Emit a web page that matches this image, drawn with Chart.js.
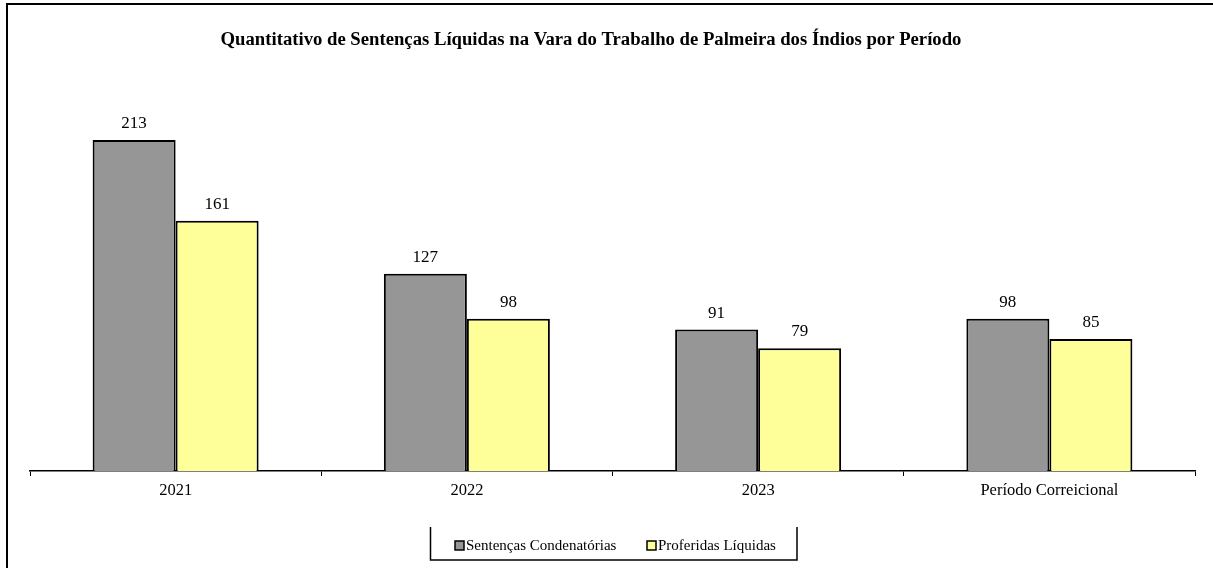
<!DOCTYPE html>
<html lang="pt-BR">
<head>
    <meta charset="UTF-8">
    <script src="https://cdn.jsdelivr.net/npm/chart.js@4/dist/chart.umd.min.js"></script>
    <title>Sentenças Líquidas por Período</title>
    <style>
        html, body { margin: 0; padding: 0; background: #fff; }
        #chart { width: 1213px; height: 568px; }
    </style>
</head>
<body>
    <div id="chart">
        <canvas id="myChart"></canvas>
    </div>
    <script>
        // dados
        const periodos = ['2021', '2022', '2023', 'Período Correicional'];
        const condenatorias = [213, 127, 91, 98];
        const liquidas = [161, 98, 79, 85];
        const nomesSeries = ['Sentenças Condenatórias', 'Proferidas Líquidas'];
        const titulo = 'Quantitativo de Sentenças Líquidas na Vara do Trabalho de Palmeira dos Índios por Período';

        const fonte = '"Liberation Serif", "Times New Roman", serif';

        // moldura, título, rótulos de valor e legenda desenhados à mão
        const extras = {
            id: 'extras',
            afterDraw(chart) {
                const ctx = chart.ctx;
                ctx.save();
                // moldura externa
                ctx.strokeStyle = '#000';
                ctx.lineWidth = 2;
                ctx.beginPath();
                ctx.moveTo(7, 568);
                ctx.lineTo(7, 4);
                ctx.lineTo(1213, 4);
                ctx.stroke();

                // título
                ctx.fillStyle = '#000';
                ctx.font = 'bold 18.7px ' + fonte;
                ctx.textAlign = 'center';
                ctx.textBaseline = 'middle';
                ctx.fillText(titulo, 591, 40);

                // valores em cima das barras
                ctx.font = '17px ' + fonte;
                ctx.textBaseline = 'bottom';
                chart.data.datasets.forEach((ds, i) => {
                    chart.getDatasetMeta(i).data.forEach((bar, j) => {
                        ctx.fillText(ds.data[j], bar.x, bar.y - 8);
                    });
                });

                // legenda
                ctx.lineWidth = 1.5;
                ctx.beginPath();
                ctx.moveTo(430.5, 527);
                ctx.lineTo(430.5, 560);
                ctx.lineTo(797, 560);
                ctx.lineTo(797, 527);
                ctx.stroke();
                const posX = [455, 647];
                ctx.font = '15px ' + fonte;
                ctx.textAlign = 'left';
                ctx.textBaseline = 'middle';
                chart.data.datasets.forEach((ds, i) => {
                    ctx.fillStyle = ds.backgroundColor;
                    ctx.fillRect(posX[i], 541, 9, 9);
                    ctx.strokeStyle = '#000';
                    ctx.lineWidth = 1.5;
                    ctx.strokeRect(posX[i], 541, 9, 9);
                    ctx.fillStyle = '#000';
                    ctx.fillText(ds.label, posX[i] + 11, 546);
                });
                ctx.restore();
            }
        };

        const data = {
            labels: periodos,
            datasets: [{
                label: nomesSeries[0],
                data: condenatorias,
                backgroundColor: '#969696',
                borderColor: '#000',
                borderWidth: 2
            }, {
                label: nomesSeries[1],
                data: liquidas,
                backgroundColor: '#FFFF99',
                borderColor: '#000',
                borderWidth: 2
            }]
        };

        const options = {
            responsive: true,
            maintainAspectRatio: false,
            animation: false,
            layout: {
                padding: { left: 30, right: 18, top: 82.5, bottom: 67 }
            },
            datasets: {
                bar: { categoryPercentage: 0.57, barPercentage: 1 }
            },
            plugins: {
                legend: { display: false },
                tooltip: { enabled: false },
                title: { display: false }
            },
            scales: {
                x: {
                    afterFit(scale) { scale.height = 30; },
                    grid: {
                        offset: true,
                        drawOnChartArea: false,
                        tickLength: 5,
                        color: '#000',
                        lineWidth: 1
                    },
                    border: { color: '#000', width: 1.5 },
                    ticks: {
                        color: '#000',
                        padding: 5,
                        font: { family: fonte, size: 16.5 }
                    }
                },
                y: {
                    display: false,
                    min: 0,
                    max: 250
                }
            }
        };

        const config = {
            type: 'bar',
            data: data,
            options: options,
            plugins: [extras]
        };

        var myChart = new Chart(document.getElementById('myChart').getContext('2d'), config);
    </script>
</body>
</html>
